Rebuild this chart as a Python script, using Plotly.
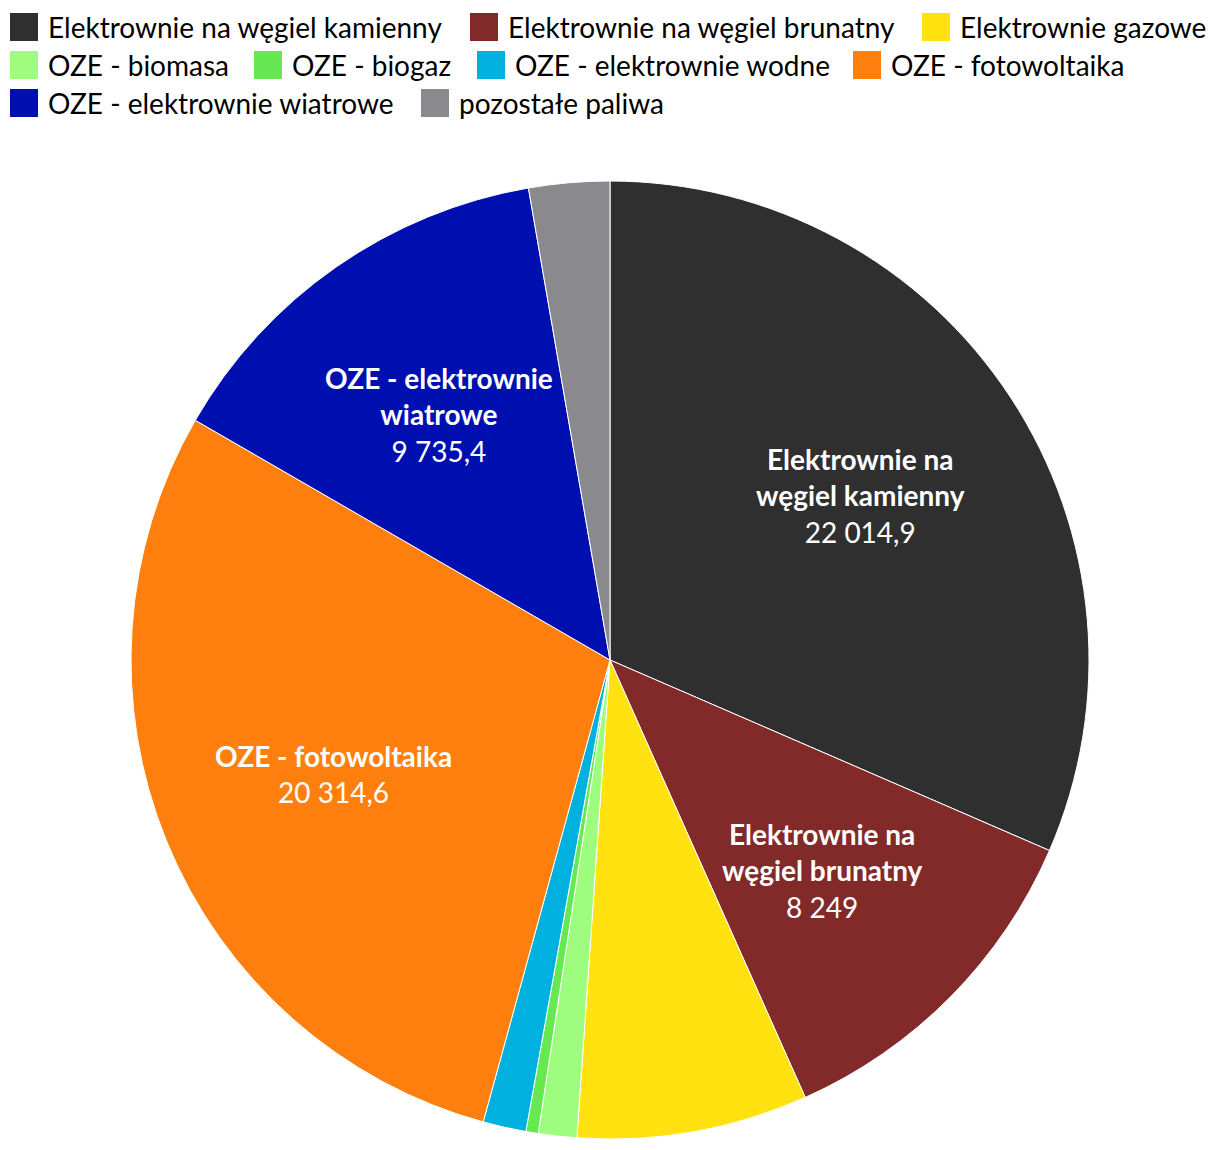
import math
import plotly.graph_objects as go

# ---- data ----
categories = [
    "Elektrownie na węgiel kamienny",
    "Elektrownie na węgiel brunatny",
    "Elektrownie gazowe",
    "OZE - biomasa",
    "OZE - biogaz",
    "OZE - elektrownie wodne",
    "OZE - fotowoltaika",
    "OZE - elektrownie wiatrowe",
    "pozostałe paliwa",
]
values = [22014.9, 8249, 5438, 904, 291, 1015, 20314.6, 9735.4, 1903]
# slice label text (with manual line breaks), empty = no label
slice_labels = [
    "Elektrownie na<br>węgiel kamienny",
    "Elektrownie na<br>węgiel brunatny",
    "", "", "", "",
    "OZE - fotowoltaika",
    "OZE - elektrownie<br>wiatrowe",
    "",
]

# ---- styles / layout ----
colors = ["#2f2f2f", "#822a2a", "#ffe210", "#9efd7f", "#66e851",
          "#00b1e0", "#ff7f0e", "#000faf", "#8a8a8e"]
FONT = "Lato, 'Open Sans', sans-serif"
W, H = 1204, 1134
M_T, M_B = 173, 3
PLOT_W, PLOT_H = W, H - M_T - M_B
R = min(PLOT_W, PLOT_H) / 2
LABEL_R = 0.625  # label distance as fraction of radius
FS = 28


def fmt(v):
    s = f"{v:,}"
    return s.replace(",", " ").replace(".", ",")


fig = go.Figure(go.Pie(
    labels=categories,
    values=values,
    sort=False,
    direction="clockwise",
    rotation=0,
    marker=dict(colors=colors, line=dict(color="white", width=1)),
    textinfo="none",
    showlegend=False,
    hoverinfo="label+value+percent",
))

# ---- slice labels placed along each slice bisector ----
annotations = []
total = sum(values)
cum = 0.0
for v, lab in zip(values, slice_labels):
    mid = (cum + v / 2) / total * 2 * math.pi
    cum += v
    if not lab:
        continue
    annotations.append(dict(
        xref="paper", yref="paper",
        x=0.5 + LABEL_R * R * math.sin(mid) / PLOT_W,
        y=0.5 + LABEL_R * R * math.cos(mid) / PLOT_H,
        xanchor="center", yanchor="middle", align="center",
        text=f"<b>{lab}</b><br>{fmt(v)}", showarrow=False,
        font=dict(size=FS, color="white", family=FONT),
    ))

# ---- custom flow legend ----
legend_rows = [[0, 1, 2], [3, 4, 5, 6], [7, 8]]
legend_x = [[2, 462, 914], [2, 246, 469, 845], [2, 413]]
legend_y = [19, 57, 95]
SW = 28


def py(p):
    return (H - M_B - p) / PLOT_H


shapes = []
for r, row in enumerate(legend_rows):
    for k, idx in enumerate(row):
        x0 = legend_x[r][k]
        yc = legend_y[r]
        shapes.append(dict(type="rect", xref="paper", yref="paper",
                           x0=x0 / W, x1=(x0 + SW) / W,
                           y0=py(yc + SW / 2), y1=py(yc - SW / 2),
                           fillcolor=colors[idx], line=dict(width=0)))
        annotations.append(dict(xref="paper", yref="paper",
                                x=(x0 + 37) / W, y=py(yc),
                                xanchor="left", yanchor="middle",
                                text=categories[idx], showarrow=False,
                                borderpad=0,
                                font=dict(size=FS, color="black", family=FONT)))

fig.update_layout(
    width=W, height=H,
    margin=dict(l=0, r=0, t=M_T, b=M_B),
    paper_bgcolor="white",
    plot_bgcolor="white",
    separators=", ",
    font=dict(family=FONT),
    shapes=shapes,
    annotations=annotations,
)

fig.write_html("out.html")
